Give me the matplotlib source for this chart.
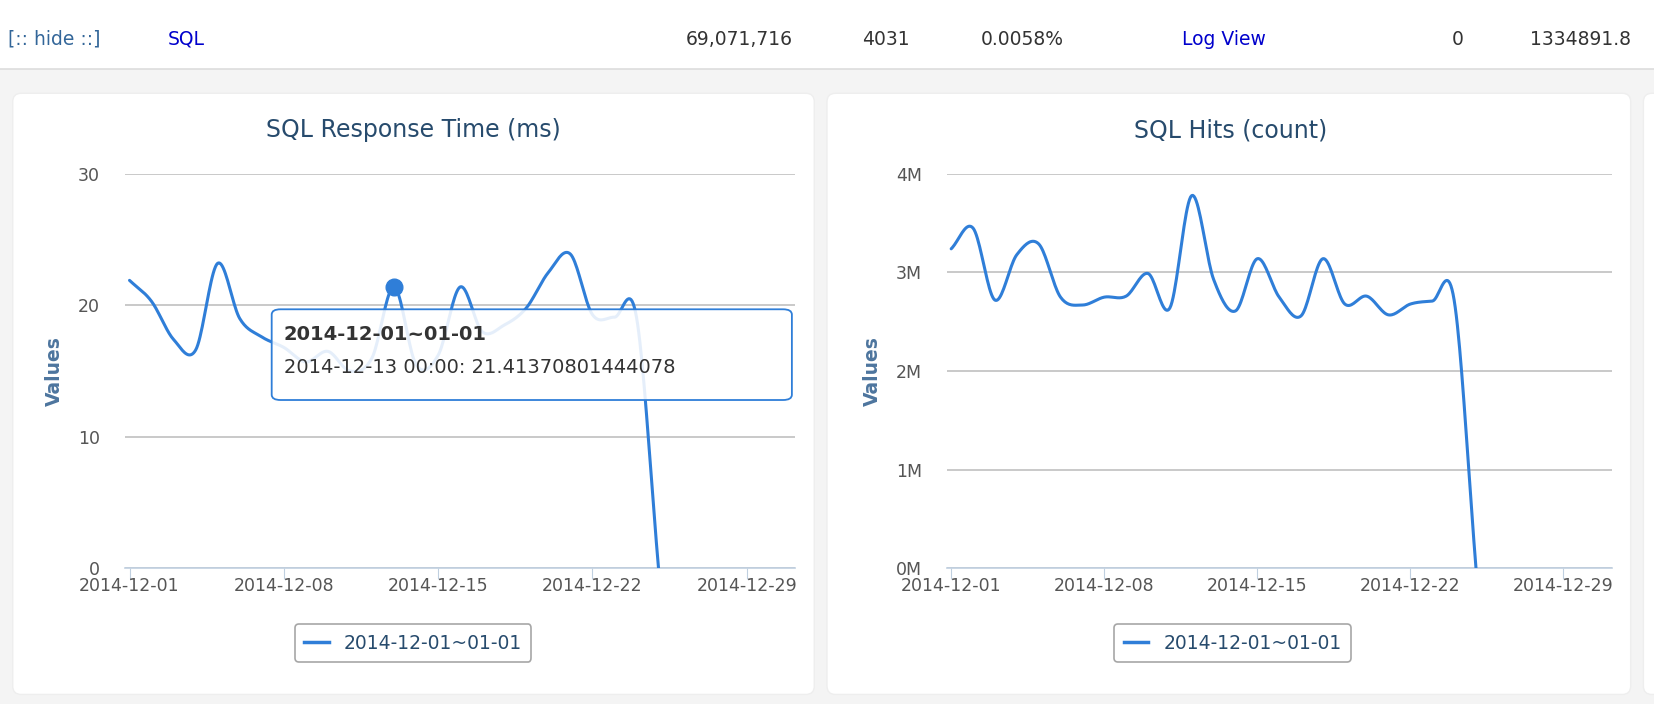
import matplotlib.pyplot as plt
import numpy as np
from matplotlib.patches import FancyBboxPatch
from matplotlib.lines import Line2D

# daily values, 2014-12-01 .. 2014-12-25
days = list(range(25))
resp_time = [21.9, 20.3, 17.4, 16.6, 23.2, 19.0, 17.6, 16.8, 15.7, 16.5, 15.0, 16.0,
             21.4, 15.5, 16.2, 21.4, 18.0, 18.5, 19.8, 22.5, 23.9, 19.3, 19.1, 19.1, 0.0]
hits = [3.24, 3.45, 2.72, 3.18, 3.29, 2.75, 2.67, 2.75, 2.76, 2.99, 2.64, 3.78,
        2.93, 2.61, 3.14, 2.75, 2.56, 3.14, 2.68, 2.76, 2.57, 2.68, 2.71, 2.72, 0.0]
tick_days = [0, 7, 14, 21, 28]
tick_labels = ['2014-12-01', '2014-12-08', '2014-12-15', '2014-12-22', '2014-12-29']
series_name = '2014-12-01~01-01'
table_row = ['[:: hide ::]', 'SQL', '69,071,716', '4031', '0.0058%', 'Log View', '0', '1334891.8']

W, H = 1560.0, 664.0  # layout measured in these units
blue = '#2f7ed8'
dark = '#274b6d'


def spline(x, y, n=20):
    # cubic hermite through the points, smooth like a chart spline
    x = np.asarray(x, float)
    y = np.asarray(y, float)
    m = np.zeros_like(y)
    m[1:-1] = (y[2:] - y[:-2]) / 2
    m[0] = y[1] - y[0]
    m[-1] = y[-1] - y[-2]
    xs, ys = [], []
    for i in range(len(x) - 1):
        t = np.linspace(0, 1, n, endpoint=False)
        h00 = 2*t**3 - 3*t**2 + 1
        h10 = t**3 - 2*t**2 + t
        h01 = -2*t**3 + 3*t**2
        h11 = t**3 - t**2
        xs.append(x[i] + t*(x[i+1]-x[i]))
        ys.append(h00*y[i] + h10*m[i] + h01*y[i+1] + h11*m[i+1])
    xs.append([x[-1]])
    ys.append([y[-1]])
    return np.concatenate(xs), np.concatenate(ys)


def box(x0, y0, x1, y1):
    return [x0/W, 1 - y1/H, (x1-x0)/W, (y1-y0)/H]


fig = plt.figure(figsize=(16.54, 7.04), dpi=100)
fig.patch.set_facecolor('#f4f4f4')

# background axes holding the white panels
bg = fig.add_axes([0, 0, 1, 1])
bg.set_xlim(0, W); bg.set_ylim(H, 0)
bg.axis('off')
bg.add_patch(plt.Rectangle((0, 0), W, 65, facecolor='white', edgecolor='none'))
bg.plot([0, W], [65, 65], color='#dddddd', lw=1.2)
panels = [(12, 768), (780, 1538), (1550, 1600)]
for x0, x1 in panels:
    bg.add_patch(FancyBboxPatch((x0, 88), x1-x0, 655-88,
                                boxstyle='round,pad=0,rounding_size=8',
                                facecolor='white', edgecolor='#eeeeee'))

xs_tab = [8, 158, 748, 858, 1003, 1115, 1380, 1538]
align = ['left', 'left', 'right', 'right', 'right', 'left', 'right', 'right']
cols = ['#336699', '#0000cc', '#333333', '#333333', '#333333', '#0000cc', '#333333', '#333333']
for txt, xx, ha, c in zip(table_row, xs_tab, align, cols):
    bg.text(xx, 37, txt, ha=ha, va='center', fontsize=13.5, color=c)


def draw(ax, y, ylim, yticks, ylabels, title, cx):
    ax.set_facecolor('none')
    xs, ys = spline(days, y)
    ax.plot(xs, ys, color=blue, lw=2.2, solid_capstyle='round', zorder=3)
    ax.set_xlim(-0.2, 30.2)
    ax.set_ylim(*ylim)
    ax.set_yticks(yticks)
    ax.set_yticklabels(ylabels)
    ax.set_xticks(tick_days)
    ax.set_xticklabels(tick_labels)
    ax.grid(axis='y', color='#c0c0c0', lw=1.2)
    ax.tick_params(axis='y', length=0, labelsize=12.5, labelcolor='#555555', pad=18)
    ax.tick_params(axis='x', length=8, color='#c0d0e0', labelsize=12.5,
                   labelcolor='#555555', pad=-2)
    for s in ['left', 'right', 'top']:
        ax.spines[s].set_visible(False)
    ax.spines['bottom'].set_color('#c0d0e0')
    ax.spines['bottom'].set_linewidth(1.2)
    ax.set_axisbelow(True)
    ax.set_ylabel('Values', color='#4d759e', fontsize=13.5, fontweight='bold', labelpad=10)
    bg.text(cx, 123, title, ha='center', va='center', fontsize=17, color=dark)
    leg = ax.legend([Line2D([0], [0], color=blue, lw=2.5)], [series_name],
                    loc='center', bbox_to_anchor=(0.43, -0.19), fontsize=13.5,
                    frameon=True, handlelength=1.3, labelcolor=dark, borderpad=0.5)
    leg.get_frame().set_edgecolor('#909090')
    leg.get_frame().set_linewidth(1.2)


ax1 = fig.add_axes(box(118, 164, 750, 536))
draw(ax1, resp_time, (0, 30), [0, 10, 20, 30], ['0', '10', '20', '30'],
     'SQL Response Time (ms)', 390)
ax2 = fig.add_axes(box(893, 164, 1520, 536))
draw(ax2, hits, (0, 4), [0, 1, 2, 3, 4], ['0M', '1M', '2M', '3M', '4M'],
     'SQL Hits (count)', 1161)

# hovered point and tooltip
ax1.plot(days[12], resp_time[12], 'o', color=blue, ms=12, zorder=5)
ax1.add_patch(FancyBboxPatch((6.45, 12.8), 23.6, 6.9,
                             boxstyle='round,pad=0,rounding_size=0.4',
                             facecolor=(1, 1, 1, 0.88), edgecolor=blue, lw=1.3,
                             zorder=6, clip_on=False))
ax1.text(7.0, 17.8, series_name, fontsize=14, fontweight='bold', color='#333333',
         va='center', ha='left', zorder=7)
ax1.text(7.0, 15.3, '2014-12-13 00:00: 21.41370801444078', fontsize=14, color='#333333',
         va='center', ha='left', zorder=7)

fig.savefig('out.png', dpi=100, facecolor=fig.get_facecolor())
